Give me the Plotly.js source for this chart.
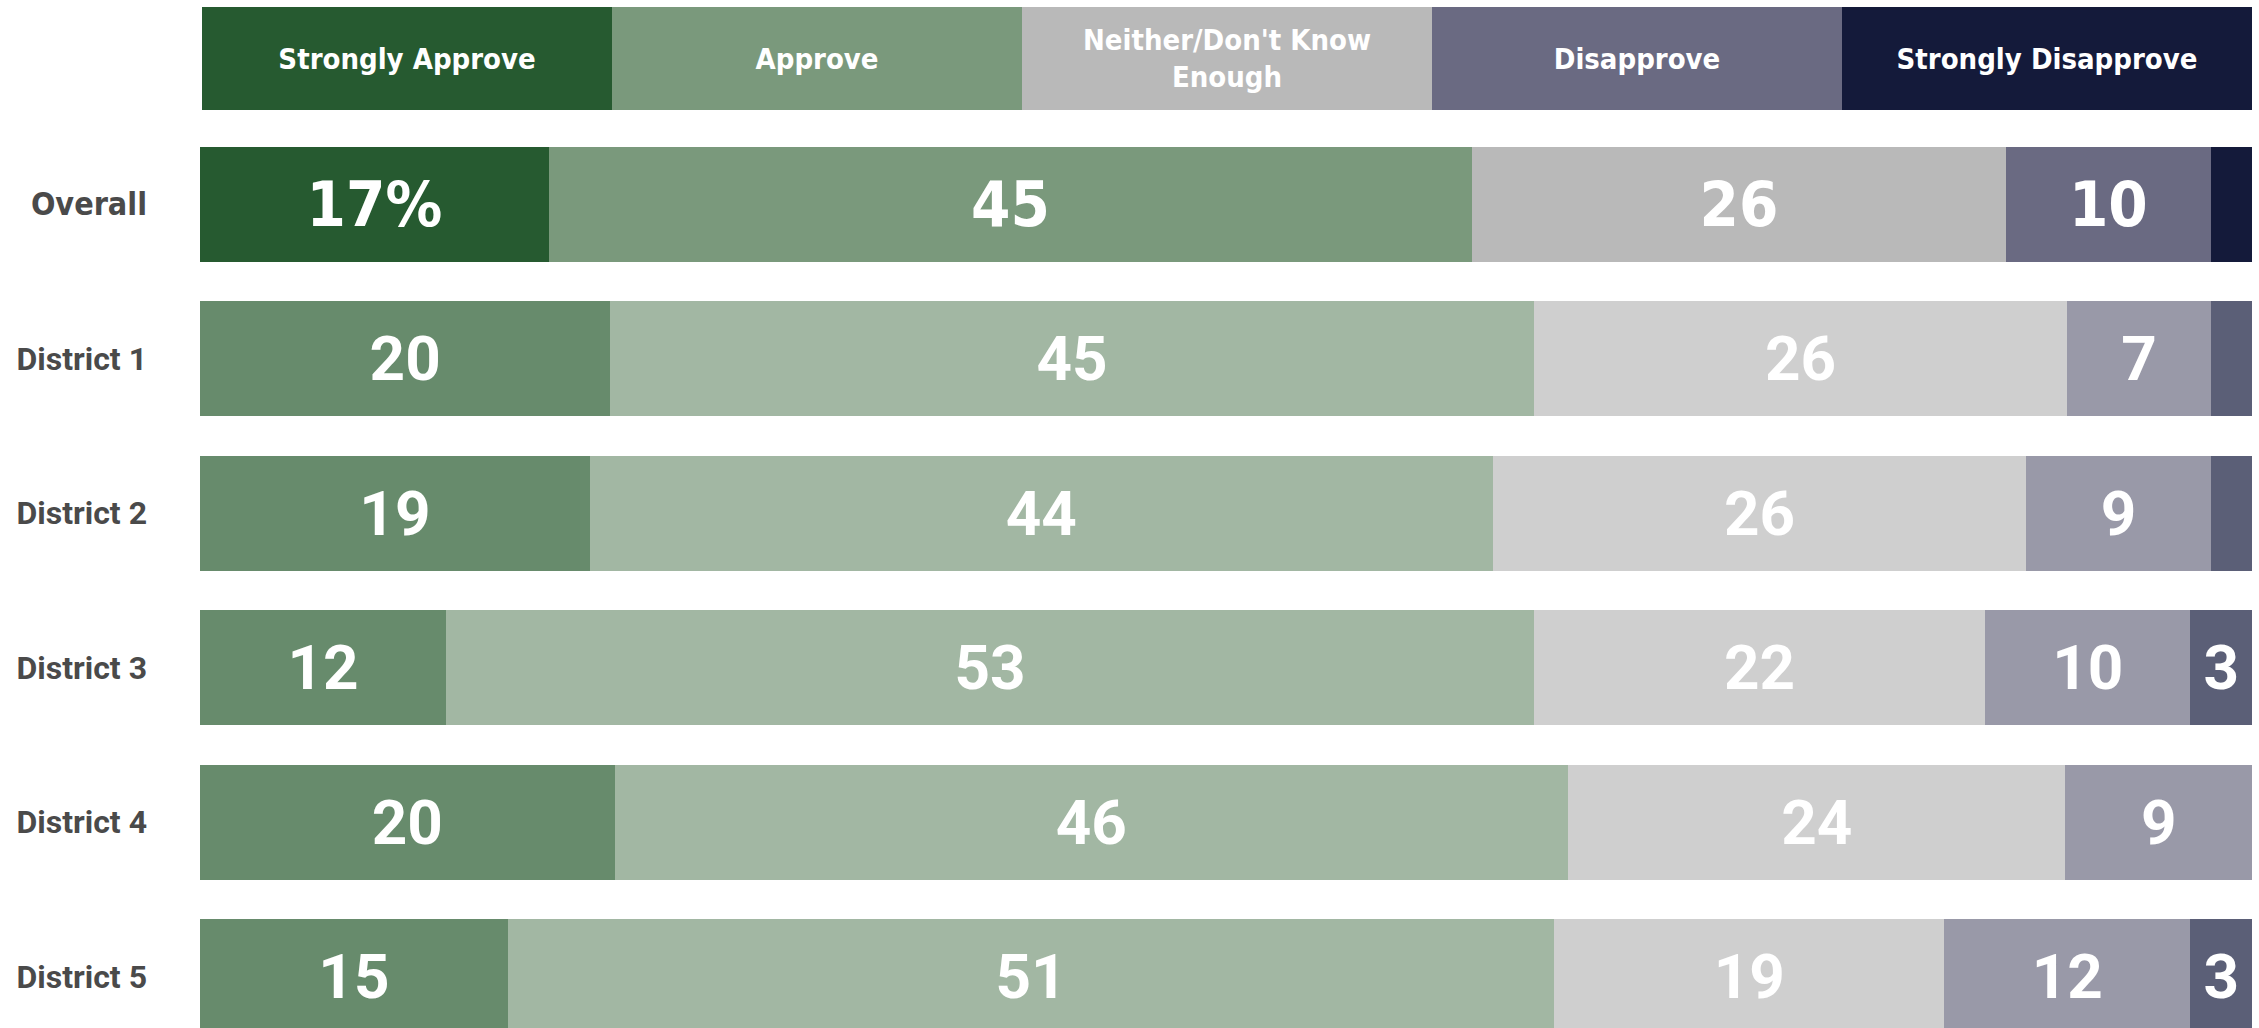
<!DOCTYPE html>
<html>
<head>
<meta charset="utf-8">
<script src="https://cdn.plot.ly/plotly-3.0.1.min.js"></script>
<style>html,body{margin:0;padding:0;background:#fff;}#chart{width:2259px;height:1028px;}</style>
</head>
<body>
<div id="chart"></div>
<script>
// ---- data ----
const categories = ['Overall', 'District 1', 'District 2', 'District 3', 'District 4', 'District 5'];
const seriesNames = ['Strongly Approve', 'Approve', "Neither/Don't Know Enough", 'Disapprove', 'Strongly Disapprove'];
const headerLabels = ['Strongly Approve', 'Approve', "Neither/Don't Know<br>Enough", 'Disapprove', 'Strongly Disapprove'];
const stronglyApprove = [17, 20, 19, 12, 20, 15];
const approve = [45, 45, 44, 53, 46, 51];
const neither = [26, 26, 26, 22, 24, 19];
const disapprove = [10, 7, 9, 10, 9, 12];
const stronglyDisapprove = [2, 2, 2, 3, 0, 3];
const headerShare = [1, 1, 1, 1, 1];

// ---- styles ----
const overallColors = ['#265A30', '#7A997C', '#B9B9B9', '#6A6A82', '#141A3A'];
const districtColors = ['#678B6C', '#A2B7A3', '#CFCFCF', '#9999A8', '#5B5F77'];
const narrowFont = '"Liberation Sans Narrow", "DejaVu Sans Condensed", "Arial Narrow", sans-serif';
const wideFont = 'Roboto, "DejaVu Sans", sans-serif';

const series = [stronglyApprove, approve, neither, disapprove, stronglyDisapprove];
const traces = [];

series.forEach((vals, s) => {
  const labels = vals.map((v, i) => {
    if (v < 3) return '';
    return (i === 0 && s === 0) ? v + '%' : String(v);
  });
  traces.push({
    type: 'bar',
    orientation: 'h',
    name: seriesNames[s],
    y: categories,
    x: vals,
    text: labels,
    texttemplate: '%{text}',
    textposition: 'inside',
    insidetextanchor: 'middle',
    constraintext: 'none',
    textangle: 0,
    textfont: {
      color: '#FFFFFF',
      size: categories.map((c, i) => i === 0 ? 63 : 62),
      family: categories.map((c, i) => i === 0 ? narrowFont : wideFont),
      weight: 'bold'
    },
    marker: {
      color: categories.map((c, i) => i === 0 ? overallColors[s] : districtColors[s]),
      line: {width: 0}
    },
    hoverinfo: 'skip',
    showlegend: false,
    xaxis: 'x',
    yaxis: 'y'
  });
});

seriesNames.forEach((n, s) => {
  traces.push({
    type: 'bar',
    orientation: 'h',
    name: n,
    y: ['header'],
    x: [headerShare[s]],
    width: [1],
    text: [headerLabels[s]],
    texttemplate: '%{text}',
    textposition: 'inside',
    insidetextanchor: 'middle',
    constraintext: 'none',
    textangle: 0,
    textfont: {color: '#FFFFFF', size: 29, family: narrowFont, weight: 'bold'},
    marker: {color: overallColors[s], line: {width: 0}},
    hoverinfo: 'skip',
    showlegend: false,
    xaxis: 'x2',
    yaxis: 'y2'
  });
});

const tickText = categories.map((c, i) => i === 0
  ? '<span style="font-family:' + "'Liberation Sans Narrow', 'DejaVu Sans Condensed', sans-serif" + '">' + c + '</span>'
  : c);

const layout = {
  width: 2259,
  height: 1028,
  margin: {l: 200, r: 7, t: 7, b: 0, pad: 0},
  paper_bgcolor: '#FFFFFF',
  plot_bgcolor: '#FFFFFF',
  barmode: 'stack',
  barnorm: 'percent',
  bargap: 0.256,
  showlegend: false,
  font: {family: wideFont, color: '#4A4A4A'},
  xaxis: {
    domain: [0, 1], range: [0, 100], anchor: 'y',
    showgrid: false, zeroline: false, showticklabels: false, showline: false, fixedrange: true
  },
  xaxis2: {
    domain: [0.001, 1], range: [0, 100], anchor: 'y2',
    showgrid: false, zeroline: false, showticklabels: false, showline: false, fixedrange: true
  },
  yaxis: {
    domain: [0, 0.8825],
    type: 'category',
    categoryorder: 'array',
    categoryarray: categories,
    range: [5.333, -0.5],
    tickmode: 'array',
    tickvals: categories,
    ticktext: tickText,
    showgrid: false, zeroline: false, showline: false,
    ticks: '',
    ticklabelstandoff: 52,
    tickfont: {size: 32, color: '#4A4A4A', family: wideFont, weight: 'bold'},
    fixedrange: true
  },
  yaxis2: {
    domain: [0.8991, 1],
    anchor: 'x2',
    type: 'category',
    range: [-0.5, 0.5],
    showgrid: false, zeroline: false, showline: false, showticklabels: false,
    ticks: '',
    fixedrange: true
  }
};

Plotly.newPlot('chart', traces, layout, {displayModeBar: false, staticPlot: true});
</script>
</body>
</html>
